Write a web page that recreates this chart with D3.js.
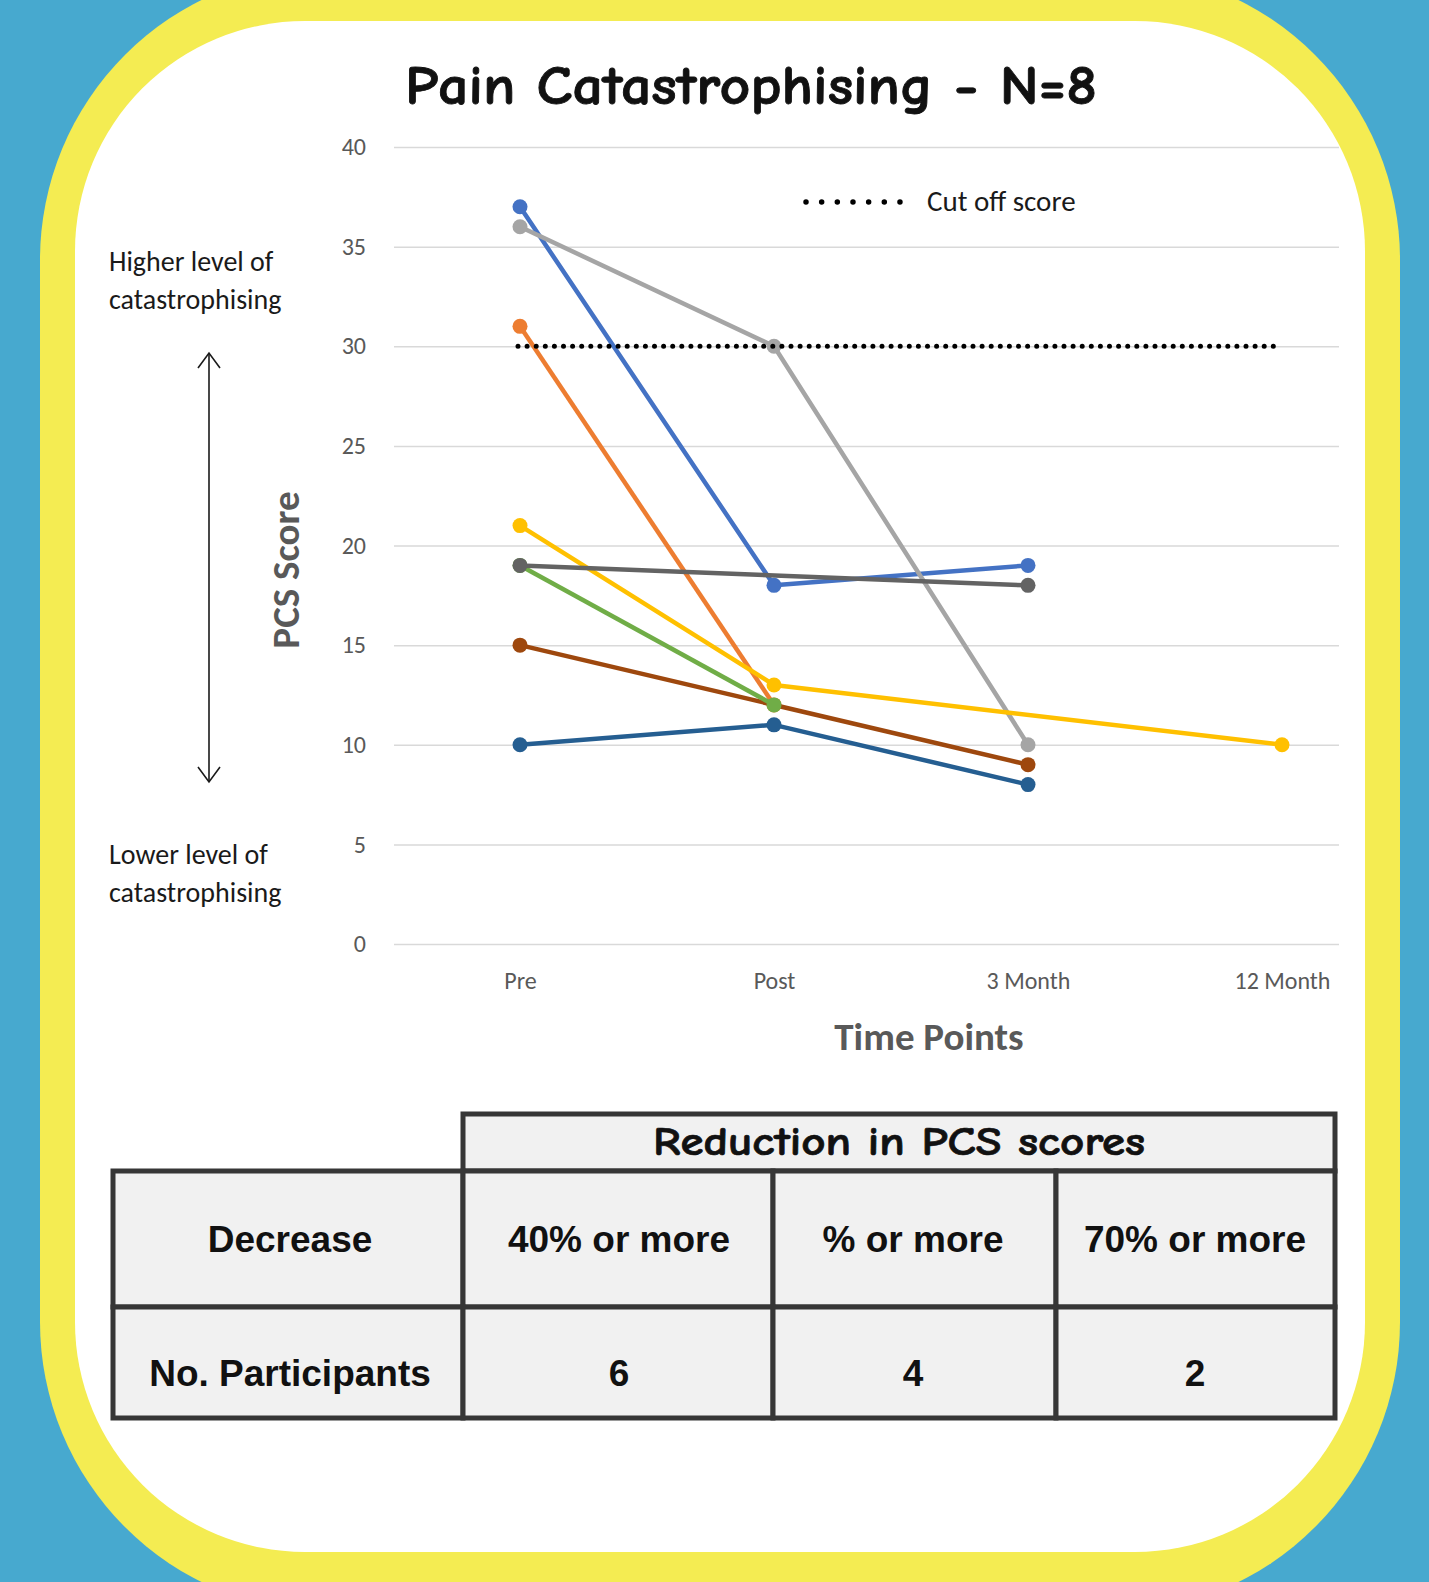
<!DOCTYPE html>
<html>
<head>
<meta charset="utf-8">
<script src="https://cdn.jsdelivr.net/npm/d3@7"></script>
<style>
  html, body { margin: 0; padding: 0; background: #47a9cf; }
  svg { display: block; }
</style>
</head>
<body>
<svg id="chart" width="1429" height="1582"></svg>
<script>
// ---- data ----
const timePoints = ["Pre", "Post", "3 Month", "12 Month"];
const yTicks = [0, 5, 10, 15, 20, 25, 30, 35, 40];

// one score per time point for each participant (null = not recorded)
const participantBlue     = [37, 18, 19, null];
const participantOrange   = [31, 12, null, null];
const participantGrey     = [36, 30, 10, null];
const participantGold     = [21, 13, null, 10];
const participantBrown    = [15, null, 9, null];
const participantGreen    = [19, 12, null, null];
const participantDarkGrey = [19, null, 18, null];
const participantNavy     = [10, 11, 8, null];
const cutOffScore         = [30, 30, 30, 30];

const seriesColors = ["#4472c4", "#ed7d31", "#a5a5a5", "#ffc000", "#9e480e", "#70ad47", "#636363", "#255e91"];
const seriesValues = [participantBlue, participantOrange, participantGrey, participantGold,
                      participantBrown, participantGreen, participantDarkGrey, participantNavy];

const tableHeader = "Reduction in PCS scores";
const rowLabels = ["Decrease", "No. Participants"];
const reductionLevels = ["40% or more", "% or more", "70% or more"];
const participantCounts = ["6", "4", "2"];

// ---- frame ----
const svg = d3.select("#chart");
svg.append("rect").attr("width", 1429).attr("height", 1582).attr("fill", "#47a9cf");
svg.append("rect").attr("x", 40).attr("y", -30).attr("width", 1360).attr("height", 1642)
  .attr("rx", 290).attr("fill", "#f4ec52");
svg.append("rect").attr("x", 75).attr("y", 21).attr("width", 1290).attr("height", 1531)
  .attr("rx", 230).attr("fill", "#ffffff");

const comic = "'Comic Sans MS', 'Comic Neue', 'Chalkboard', Lato, sans-serif";
const calibri = "Calibri, Carlito, Lato, 'Open Sans', sans-serif";

// title
svg.append("text")
  .attr("x", 751).attr("y", 104)
  .attr("text-anchor", "middle")
  .attr("font-family", comic).attr("font-weight", "bold").attr("font-size", 54)
  .attr("fill", "#111").attr("stroke", "#111").attr("stroke-width", 0.8)
  .attr("textLength", 692).attr("lengthAdjust", "spacingAndGlyphs")
  .text("Pain Catastrophising - N=8");

// ---- scales ----
const plotLeft = 394, plotRight = 1339;
const y = d3.scaleLinear().domain([0, 40]).range([944, 147]);
const x = d3.scalePoint().domain(timePoints).range([520, 1282]);

// gridlines + y tick labels
const yAxis = svg.append("g")
  .attr("transform", `translate(${plotLeft},0)`)
  .call(d3.axisLeft(y).tickValues(yTicks).tickSize(-(plotRight - plotLeft)).tickPadding(28));
yAxis.select(".domain").remove();
yAxis.selectAll(".tick line").attr("stroke", "#d9d9d9").attr("stroke-width", 1.5);
yAxis.selectAll(".tick text")
  .attr("font-family", calibri).attr("font-size", 24).attr("fill", "#595959");

// x tick labels
const xAxis = svg.append("g")
  .attr("transform", `translate(0,${y(0)})`)
  .call(d3.axisBottom(x).tickSize(0).tickPadding(28));
xAxis.select(".domain").remove();
xAxis.selectAll(".tick text")
  .attr("font-family", calibri).attr("font-size", 24).attr("fill", "#595959");

// axis titles
svg.append("text")
  .attr("x", 929).attr("y", 1050)
  .attr("text-anchor", "middle")
  .attr("font-family", calibri).attr("font-weight", "bold").attr("font-size", 39)
  .attr("fill", "#595959")
  .text("Time Points");
svg.append("text")
  .attr("transform", "translate(299,570) rotate(-90)")
  .attr("text-anchor", "middle")
  .attr("font-family", calibri).attr("font-weight", "bold").attr("font-size", 39)
  .attr("fill", "#595959")
  .text("PCS Score");

// side annotations
const note = svg.append("g")
  .attr("font-family", calibri).attr("font-size", 28).attr("fill", "#1a1a1a");
[["Higher level of", 271], ["catastrophising", 309], ["Lower level of", 864], ["catastrophising", 902]]
  .forEach(([t, ty]) => note.append("text").attr("x", 109).attr("y", ty).text(t));

// double-headed arrow
const arrow = svg.append("g").attr("stroke", "#1a1a1a").attr("stroke-width", 1.6).attr("fill", "none");
arrow.append("line").attr("x1", 209).attr("x2", 209).attr("y1", 353).attr("y2", 782);
arrow.append("path").attr("d", "M198,368 L209,353 L220,368");
arrow.append("path").attr("d", "M198,767 L209,782 L220,767");

// ---- participant lines ----
const line = d3.line().x(d => x(d.t)).y(d => y(d.v));
const plot = svg.append("g");
seriesValues.forEach((vals, i) => {
  const pts = vals.map((v, j) => ({ t: timePoints[j], v })).filter(d => d.v !== null);
  const g = plot.append("g");
  g.append("path").datum(pts)
    .attr("d", line)
    .attr("fill", "none")
    .attr("stroke", seriesColors[i])
    .attr("stroke-width", 4.5)
    .attr("stroke-linejoin", "round");
  g.selectAll("circle").data(pts).join("circle")
    .attr("cx", d => x(d.t)).attr("cy", d => y(d.v))
    .attr("r", 7.5).attr("fill", seriesColors[i]);
});

// cut-off score line
const cutPts = cutOffScore.map((v, j) => ({ t: timePoints[j], v }));
svg.append("path").datum(cutPts)
  .attr("d", d3.line().x(d => x(d.t) - (d.t === "Pre" ? 2 : 0) - (d.t === "12 Month" ? 5 : 0)).y(d => y(d.v)))
  .attr("fill", "none").attr("stroke", "#000")
  .attr("stroke-width", 5).attr("stroke-linecap", "round")
  .attr("stroke-dasharray", "0 9.1");

// legend
svg.append("line")
  .attr("x1", 806).attr("x2", 900).attr("y1", 202).attr("y2", 202)
  .attr("stroke", "#000").attr("stroke-width", 5.5).attr("stroke-linecap", "round")
  .attr("stroke-dasharray", "0 15.66");
svg.append("text")
  .attr("x", 927).attr("y", 211)
  .attr("font-family", calibri).attr("font-size", 29).attr("fill", "#1a1a1a")
  .text("Cut off score");

// ---- summary table ----
const colEdges = [113, 463, 773, 1056, 1335];
const rowEdges = [1171, 1307, 1418];
const tbl = svg.append("g");
const border = "#363636";

// header band
tbl.append("rect").attr("x", 463).attr("y", 1114).attr("width", 1335 - 463).attr("height", 1171 - 1114)
  .attr("fill", "#f1f1f1").attr("stroke", border).attr("stroke-width", 5);
// body cells
for (let r = 0; r < 2; r++) {
  for (let c = 0; c < 4; c++) {
    tbl.append("rect")
      .attr("x", colEdges[c]).attr("y", rowEdges[r])
      .attr("width", colEdges[c + 1] - colEdges[c]).attr("height", rowEdges[r + 1] - rowEdges[r])
      .attr("fill", "#f1f1f1").attr("stroke", border).attr("stroke-width", 5);
  }
}
tbl.append("text")
  .attr("x", 899).attr("y", 1155)
  .attr("text-anchor", "middle")
  .attr("font-family", comic).attr("font-weight", "bold").attr("font-size", 40)
  .attr("fill", "#111").attr("stroke", "#111").attr("stroke-width", 0.7)
  .attr("textLength", 492).attr("lengthAdjust", "spacingAndGlyphs")
  .text(tableHeader);

const cellFont = "Arial, 'Liberation Sans', Helvetica, sans-serif";
const rowTextY = [1252, 1386];
const colCentres = [290, 619, 913, 1195];
[[rowLabels[0], ...reductionLevels], [rowLabels[1], ...participantCounts]].forEach((row, r) => {
  row.forEach((t, c) => {
    tbl.append("text")
      .attr("x", colCentres[c]).attr("y", rowTextY[r])
      .attr("text-anchor", "middle")
      .attr("font-family", cellFont).attr("font-weight", "bold").attr("font-size", 37)
      .attr("fill", "#111")
      .text(t);
  });
});
</script>
</body>
</html>
